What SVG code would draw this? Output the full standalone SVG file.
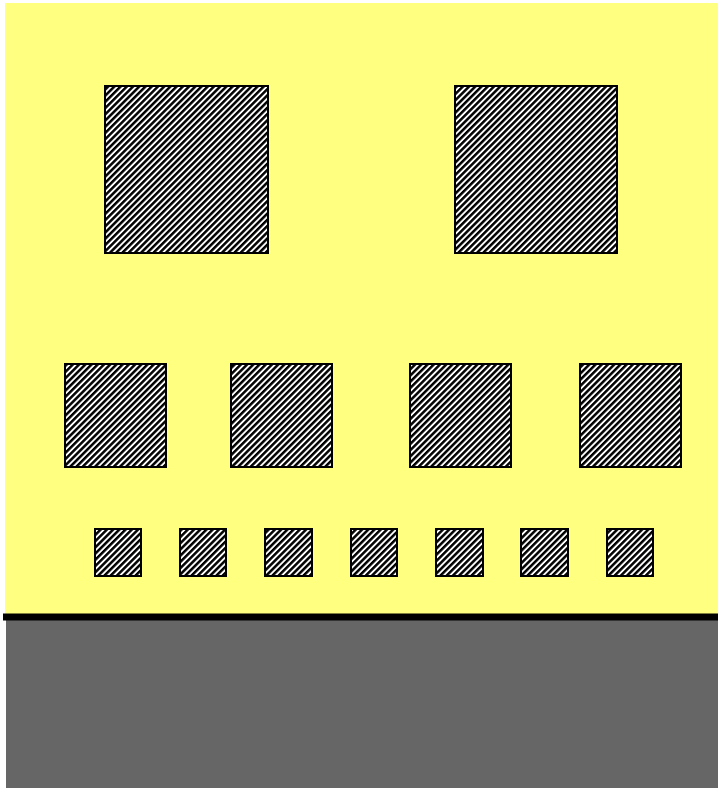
<svg xmlns="http://www.w3.org/2000/svg" width="718" height="788" viewBox="0 0 718 788">
<defs>
<pattern id="hatch" patternUnits="userSpaceOnUse" width="4.4" height="4.4" patternTransform="rotate(45)">
<rect x="0" y="0" width="4.4" height="4.4" fill="#ffffff"/>
<rect x="0" y="0" width="2.5" height="4.4" fill="#000000"/>
</pattern>
<style>
.box{fill:url(#hatch);stroke:#000;stroke-width:2}
</style>
</defs>
<rect x="0" y="0" width="718" height="788" fill="#ffffff"/>
<rect id="sky" x="5" y="3" width="713" height="614" fill="#ffff80"/>
<rect id="ground" x="6" y="617" width="712" height="171" fill="#666666"/>
<line id="groundline" x1="3" y1="617" x2="718" y2="617" stroke="#000" stroke-width="7"/>
<g id="big1"><rect class="box" x="105" y="86" width="163" height="167"/></g>
<g id="big2"><rect class="box" x="455" y="86" width="162" height="167"/></g>
<g id="med1"><rect class="box" x="65" y="364" width="101" height="103"/></g>
<g id="med2"><rect class="box" x="231" y="364" width="101" height="103"/></g>
<g id="med3"><rect class="box" x="410" y="364" width="101" height="103"/></g>
<g id="med4"><rect class="box" x="580" y="364" width="101" height="103"/></g>
<g id="s1"><rect class="box" x="95" y="529" width="46" height="47"/></g>
<g id="s2"><rect class="box" x="180" y="529" width="46" height="47"/></g>
<g id="s3"><rect class="box" x="265" y="529" width="47" height="47"/></g>
<g id="s4"><rect class="box" x="351" y="529" width="46" height="47"/></g>
<g id="s5"><rect class="box" x="436" y="529" width="47" height="47"/></g>
<g id="s6"><rect class="box" x="521" y="529" width="47" height="47"/></g>
<g id="s7"><rect class="box" x="607" y="529" width="46" height="47"/></g>
</svg>
